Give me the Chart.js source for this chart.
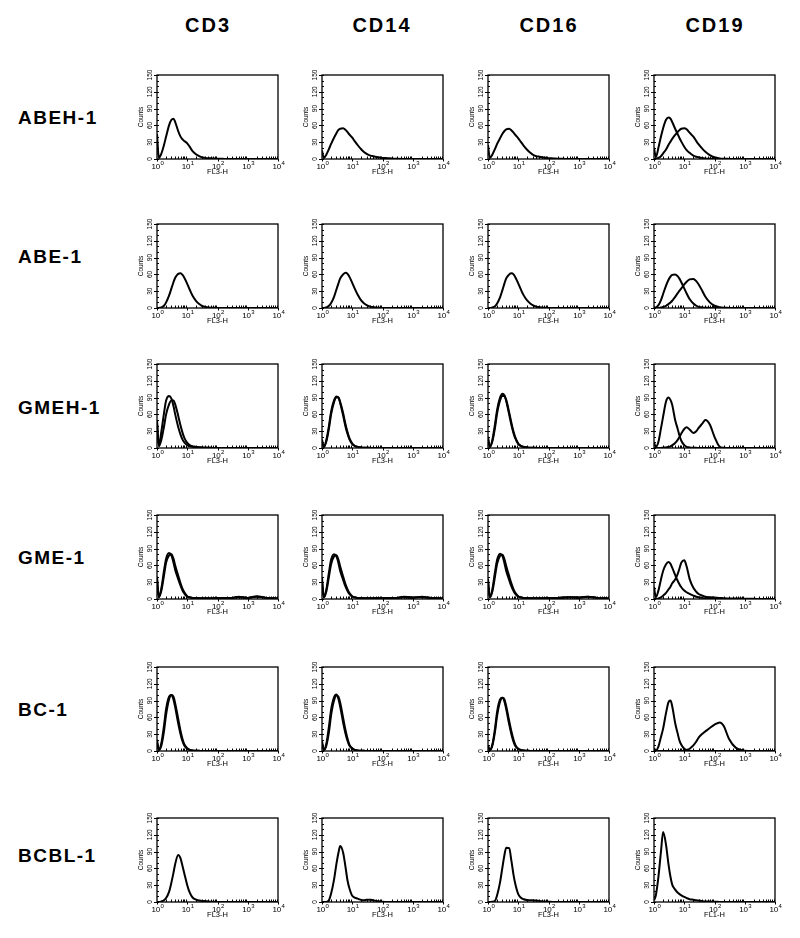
<!DOCTYPE html>
<html>
<head>
<meta charset="utf-8">
<script src="https://cdn.jsdelivr.net/npm/chart.js@4/dist/chart.umd.min.js"></script>
<style>
  html, body { margin: 0; padding: 0; background: #fff; }
  #fig { position: relative; width: 800px; height: 938px; background: #fff; overflow: hidden; }
  canvas { position: absolute; }
  .hdr { position: absolute; font: bold 20px Arial, "Liberation Sans", sans-serif; letter-spacing: 2px; color: #000; transform: translate(-50%, -50%); white-space: nowrap; }
  .row { position: absolute; font: bold 19px Arial, "Liberation Sans", sans-serif; letter-spacing: 1.5px; color: #000; transform: translateY(-50%); white-space: nowrap; }
</style>
</head>
<body>
<div id="fig"></div>
<script>
// ---------------- DATA ----------------
const rowLabels = ['ABEH-1', 'ABE-1', 'GMEH-1', 'GME-1', 'BC-1', 'BCBL-1'];
const colLabels = ['CD3', 'CD14', 'CD16', 'CD19'];

// fluorescence channel (x) positions shared by every histogram
const xChannels = [1, 1.15, 1.4, 1.7, 2, 2.5, 3, 3.5, 4, 5, 6, 7, 8, 10, 12, 15, 20, 25, 30, 40, 50, 70, 100, 150, 200, 300, 500, 1000, 2000, 4000, 10000];

const xTickValues = [1, 10, 100, 1000, 10000];
const xTickBase = '10';
const xTickExponents = ['0', '1', '2', '3', '4'];
const yTickValues = [0, 30, 60, 90, 120, 150];
const yTitle = 'Counts';

const xTitles = [
  ['FL3-H', 'FL3-H', 'FL3-H', 'FL1-H'],
  ['FL3-H', 'FL3-H', 'FL3-H', 'FL3-H'],
  ['FL3-H', 'FL3-H', 'FL3-H', 'FL1-H'],
  ['FL3-H', 'FL3-H', 'FL3-H', 'FL1-H'],
  ['FL3-H', 'FL3-H', 'FL3-H', 'FL3-H'],
  ['FL3-H', 'FL3-H', 'FL3-H', 'FL1-H']
];

// ABEH-1
const abeh1_cd3   = [45, 2, 10, 25, 40, 60, 70, 72, 66, 50, 40, 35, 32, 28, 22, 14, 8, 5, 3, 2, 1.5, 1, 0.5, 0.3, 0, 0, 0, 0, 0, 0, 0];
const abeh1_cd14  = [15, 2, 8, 18, 27, 38, 46, 52, 54, 55, 52, 48, 44, 38, 32, 25, 17, 12, 9, 6, 5, 3, 2, 1.5, 1, 0.5, 0.2, 0, 0, 0, 0];
const abeh1_cd16  = [25, 2, 8, 18, 27, 37, 45, 50, 53, 54, 51, 47, 43, 37, 31, 24, 16, 11, 8, 5, 4, 2.5, 1.5, 1, 0.5, 0.3, 0, 0, 0, 0, 0];
const abeh1_cd19a = [20, 3, 20, 40, 55, 70, 74, 72, 66, 54, 45, 37, 31, 22, 16, 11, 6, 4, 3, 2, 1, 0.5, 0.3, 0, 0, 0, 0, 0, 0, 0, 0];
const abeh1_cd19b = [0, 0, 2, 5, 10, 17, 25, 31, 36, 43, 48, 52, 54, 55, 53, 47, 40, 32, 26, 18, 13, 7, 3, 1, 0.5, 0.2, 0, 0, 0, 0, 0];
// ABE-1
const abe1_cd3   = [0, 0, 1, 4, 10, 22, 35, 46, 54, 61, 62, 59, 54, 43, 33, 22, 12, 7, 4, 2, 1, 0.5, 0, 0, 0, 0, 0, 0, 0, 0, 0];
const abe1_cd14  = [0, 0, 1, 4, 9, 20, 33, 44, 53, 60, 63, 61, 56, 45, 35, 24, 13, 8, 5, 2.5, 1.5, 0.5, 0.2, 0, 0, 0, 0, 0, 0, 0, 0];
const abe1_cd16  = [0, 0, 1, 3, 8, 19, 32, 44, 53, 60, 62, 60, 55, 44, 34, 23, 13, 8, 5, 2.5, 1.5, 0.5, 0.2, 0, 0, 0, 0, 0, 0, 0, 0];
const abe1_cd19a = [2, 1, 5, 14, 25, 40, 50, 56, 59, 60, 57, 52, 46, 35, 26, 16, 8, 4, 2, 1, 0.5, 0.2, 0, 0, 0, 0, 0, 0, 0, 0, 0];
const abe1_cd19b = [0, 0, 0, 1, 2, 4, 7, 10, 13, 20, 26, 31, 35, 42, 47, 51, 52, 48, 42, 30, 20, 10, 4, 1.5, 0.5, 0.2, 0, 0, 0, 0, 0];
// GMEH-1
const gmeh1_cd3a  = [50, 5, 30, 62, 85, 93, 88, 75, 60, 38, 24, 15, 10, 5, 3, 2, 1.5, 1, 0.8, 0.5, 0.3, 0.2, 0, 0, 0, 0, 0, 0, 0, 0, 0];
const gmeh1_cd3b  = [45, 3, 15, 38, 60, 78, 85, 85, 78, 58, 40, 27, 18, 9, 5, 3, 2, 1.5, 1, 0.5, 0.3, 0.2, 0, 0, 0, 0, 0, 0, 0, 0, 0];
const gmeh1_cd14a = [15, 2, 15, 40, 65, 85, 92, 90, 80, 58, 38, 25, 16, 7, 4, 2, 1, 0.5, 0.3, 0.2, 0, 0, 0, 0, 0, 0, 0, 0, 0, 0, 0];
const gmeh1_cd14b = [10, 2, 12, 35, 60, 82, 90, 90, 82, 62, 42, 28, 18, 8, 4, 2, 1, 0.5, 0.3, 0.2, 0, 0, 0, 0, 0, 0, 0, 0, 0, 0, 0];
const gmeh1_cd16a = [20, 2, 15, 42, 68, 90, 97, 94, 84, 60, 40, 26, 17, 7, 4, 2, 1, 0.5, 0.3, 0.2, 0, 0, 0, 0, 0, 0, 0, 0, 0, 0, 0];
const gmeh1_cd16b = [15, 2, 12, 36, 62, 85, 93, 93, 86, 64, 44, 29, 19, 8, 4, 2, 1, 0.5, 0.3, 0.2, 0, 0, 0, 0, 0, 0, 0, 0, 0, 0, 0];
const gmeh1_cd19a = [10, 2, 11, 35, 56, 83, 90, 86, 77, 50, 35, 22, 13, 5, 2, 1, 0.5, 0.3, 0, 0, 0, 0, 0, 0, 0, 0, 0, 0, 0, 0, 0];
const gmeh1_cd19b = [0, 0, 0, 0, 0.5, 1, 2, 3, 5, 9, 14, 20, 26, 34, 37, 33, 27, 30, 36, 44, 50, 42, 20, 2, 0.5, 0, 0, 0, 0, 0, 0];
// GME-1
const gme1_cd3a  = [40, 3, 20, 50, 72, 82, 78, 65, 52, 36, 24, 15, 10, 4, 3, 2, 2, 1.5, 1.5, 1.5, 1.5, 1.5, 2, 2, 2, 2, 4, 2, 5, 2, 1];
const gme1_cd3b  = [35, 3, 15, 42, 65, 78, 80, 72, 60, 42, 28, 18, 12, 5, 3, 2, 2, 1.5, 1.5, 1.5, 1.5, 1.5, 2, 2, 2, 2, 3, 2, 4, 2, 1];
const gme1_cd14a = [38, 3, 18, 48, 70, 80, 76, 64, 50, 34, 22, 14, 9, 4, 3, 2, 2, 1.5, 1.5, 1.5, 1.5, 2, 2, 2, 2, 2, 3, 2, 4, 2, 1];
const gme1_cd14b = [32, 3, 14, 40, 62, 76, 78, 70, 58, 40, 26, 17, 11, 5, 3, 2, 2, 1.5, 1.5, 1.5, 1.5, 2, 2, 2, 2, 2, 4, 3, 3, 2, 1];
const gme1_cd16a = [36, 3, 18, 48, 70, 81, 77, 64, 50, 34, 22, 14, 9, 4, 3, 2, 2, 1.5, 1.5, 1.5, 1.5, 1.5, 2, 2, 2, 2, 3, 3, 4, 2, 1];
const gme1_cd16b = [30, 3, 14, 40, 63, 77, 79, 71, 59, 41, 27, 17, 11, 5, 3, 2, 2, 1.5, 1.5, 1.5, 1.5, 1.5, 2, 2, 2, 3, 3, 2, 4, 2, 1];
const gme1_cd19a = [22, 3, 15, 35, 50, 62, 66, 63, 56, 43, 33, 26, 21, 15, 12, 9, 6, 4, 3, 2, 1.5, 1, 0.5, 0.3, 0.2, 0, 0, 0, 0, 0, 0];
const gme1_cd19b = [0, 0, 1, 3, 6, 11, 17, 22, 28, 35, 44, 55, 65, 69, 58, 36, 20, 13, 9, 6, 4, 3, 2.5, 2, 1.5, 1, 1, 0.5, 0.3, 0, 0];
// BC-1
const bc1_cd3a  = [20, 2, 15, 45, 75, 97, 100, 92, 78, 50, 30, 17, 10, 4, 2, 1, 0.5, 0.3, 0, 0, 0, 0, 0, 0, 0, 0, 0, 0, 0, 0, 0];
const bc1_cd3b  = [15, 2, 10, 35, 65, 92, 100, 97, 85, 58, 36, 21, 12, 5, 2, 1, 0.5, 0.3, 0, 0, 0, 0, 0, 0, 0, 0, 0, 0, 0, 0, 0];
const bc1_cd14a = [18, 2, 14, 44, 74, 96, 101, 93, 79, 51, 31, 18, 10, 4, 2, 1, 0.5, 0.3, 0, 0, 0, 0, 0, 0, 0, 0, 0, 0, 0, 0, 0];
const bc1_cd14b = [14, 2, 10, 34, 64, 90, 99, 97, 86, 59, 37, 22, 12, 5, 2, 1, 0.5, 0.3, 0, 0, 0, 0, 0, 0, 0, 0, 0, 0, 0, 0, 0];
const bc1_cd16a = [10, 2, 12, 40, 70, 92, 95, 88, 75, 48, 29, 16, 9, 4, 2, 1, 0.5, 0, 0, 0, 0, 0, 0, 0, 0, 0, 0, 0, 0, 0, 0];
const bc1_cd16b = [8, 2, 10, 34, 63, 88, 95, 92, 80, 54, 34, 20, 11, 4, 2, 1, 0.5, 0, 0, 0, 0, 0, 0, 0, 0, 0, 0, 0, 0, 0, 0];
const bc1_cd19a = [5, 1, 8, 25, 40, 68, 87, 90, 80, 50, 32, 18, 11, 4, 1.5, 0.5, 0, 0, 0, 0, 0, 0, 0, 0, 0, 0, 0, 0, 0, 0, 0];
const bc1_cd19b = [0, 0, 0, 0, 0, 0, 0, 0, 0, 0, 0, 0, 0, 1, 2, 4, 10, 17, 24, 31, 35, 41, 47, 51, 45, 22, 6, 0.5, 0, 0, 0];
// BCBL-1
const bcbl1_cd3  = [0, 0, 1, 3, 7, 18, 35, 52, 68, 84, 78, 64, 51, 30, 17, 8, 4, 2.5, 2, 1.5, 1, 0.5, 0.2, 0, 0, 0, 0, 0, 0, 0, 0];
const bcbl1_cd14 = [0, 0, 0, 3, 15, 40, 68, 88, 100, 88, 62, 38, 25, 11, 8, 6, 3.5, 3, 4, 4, 3, 1.5, 0.5, 0, 0, 0, 0, 0, 0, 0, 0];
const bcbl1_cd16 = [0, 0, 0.5, 2, 12, 35, 62, 84, 97, 96, 72, 48, 32, 14, 8, 5, 3.5, 3, 3, 2.5, 2, 1, 0.5, 0, 0, 0, 0, 0, 0, 0, 0];
const bcbl1_cd19 = [3, 12, 45, 90, 125, 102, 68, 45, 31, 22, 17, 14, 12, 9, 7, 5, 4, 3, 2.5, 1.5, 1, 0.7, 0.4, 0.2, 0, 0, 0, 0, 0, 0, 0];

const panelSeries = [
  [[abeh1_cd3], [abeh1_cd14], [abeh1_cd16], [abeh1_cd19a, abeh1_cd19b]],
  [[abe1_cd3], [abe1_cd14], [abe1_cd16], [abe1_cd19a, abe1_cd19b]],
  [[gmeh1_cd3a, gmeh1_cd3b], [gmeh1_cd14a, gmeh1_cd14b], [gmeh1_cd16a, gmeh1_cd16b], [gmeh1_cd19a, gmeh1_cd19b]],
  [[gme1_cd3a, gme1_cd3b], [gme1_cd14a, gme1_cd14b], [gme1_cd16a, gme1_cd16b], [gme1_cd19a, gme1_cd19b]],
  [[bc1_cd3a, bc1_cd3b], [bc1_cd14a, bc1_cd14b], [bc1_cd16a, bc1_cd16b], [bc1_cd19a, bc1_cd19b]],
  [[bcbl1_cd3], [bcbl1_cd14], [bcbl1_cd16], [bcbl1_cd19]]
];

// ---------------- LAYOUT ----------------
const PLOT_W = 121, PLOT_H = 84;
const PAD_L = 32, PAD_T = 10, PAD_R = 12, PAD_B = 24;
const colLeft = [157, 322, 488, 654];
const rowTop = [75, 224, 364, 515, 667, 818];
const headerX = [208, 382, 549, 715], headerY = 25;
const rowLabelX = 18;
const rowLabelY = [118, 257, 408, 558, 710, 856];

const fig = document.getElementById('fig');
colLabels.forEach((t, i) => {
  const d = document.createElement('div');
  d.className = 'hdr'; d.textContent = t;
  d.style.left = headerX[i] + 'px'; d.style.top = headerY + 'px';
  fig.appendChild(d);
});
rowLabels.forEach((t, i) => {
  const d = document.createElement('div');
  d.className = 'row'; d.textContent = t;
  d.style.left = rowLabelX + 'px'; d.style.top = rowLabelY[i] + 'px';
  fig.appendChild(d);
});

const FONT = 'Arial, "Liberation Sans", sans-serif';

const framePlugin = {
  id: 'frame',
  afterDraw(chart, args, opts) {
    const { ctx, chartArea: a } = chart;
    const x = chart.scales.x, y = chart.scales.y;
    ctx.save();
    ctx.strokeStyle = '#000';
    ctx.lineWidth = 1.3;
    ctx.strokeRect(a.left, a.top, a.right - a.left, a.bottom - a.top);
    ctx.lineWidth = 1;
    ctx.beginPath();
    // x minor ticks (inside) and major ticks (outside)
    for (let k = 0; k < 4; k++) {
      for (let m = 2; m <= 9; m++) {
        const px = Math.round(x.getPixelForValue(m * Math.pow(10, k))) + 0.5;
        ctx.moveTo(px, a.bottom); ctx.lineTo(px, a.bottom - 2.5);
      }
    }
    xTickValues.forEach(v => {
      const px = Math.round(x.getPixelForValue(v)) + 0.5;
      ctx.moveTo(px, a.bottom); ctx.lineTo(px, a.bottom + 2.5);
    });
    // y ticks
    for (let v = 0; v <= 150; v += 10) {
      const py = Math.round(y.getPixelForValue(v)) + 0.5;
      ctx.moveTo(a.left, py); ctx.lineTo(a.left + 2, py);
    }
    yTickValues.forEach(v => {
      const py = Math.round(y.getPixelForValue(v)) + 0.5;
      ctx.moveTo(a.left, py); ctx.lineTo(a.left - 3, py);
    });
    ctx.stroke();
    ctx.fillStyle = '#000';
    // x tick labels: base with raised exponent
    const baseFont = '8px ' + FONT, expFont = '6px ' + FONT;
    ctx.textBaseline = 'alphabetic';
    ctx.textAlign = 'left';
    xTickValues.forEach((v, i) => {
      const px = x.getPixelForValue(v);
      ctx.font = baseFont; const wb = ctx.measureText(xTickBase).width;
      ctx.font = expFont; const we = ctx.measureText(xTickExponents[i]).width;
      const x0 = px - (wb + we) / 2 + 0.5;
      ctx.font = baseFont; ctx.fillText(xTickBase, x0, a.bottom + 9.5);
      ctx.font = expFont; ctx.fillText(xTickExponents[i], x0 + wb + 0.3, a.bottom + 5.5);
    });
    // x title
    ctx.font = '7.5px ' + FONT;
    ctx.textAlign = 'center';
    ctx.textBaseline = 'middle';
    ctx.fillText(opts.xTitle, (a.left + a.right) / 2, a.bottom + 13);
    // rotated y labels
    ctx.font = '6.5px ' + FONT;
    yTickValues.forEach(v => {
      const py = y.getPixelForValue(v);
      ctx.save();
      ctx.translate(a.left - 7, py);
      ctx.rotate(-Math.PI / 2);
      ctx.fillText(String(v), 0, 0);
      ctx.restore();
    });
    ctx.save();
    ctx.translate(a.left - 16, (a.top + a.bottom) / 2);
    ctx.rotate(-Math.PI / 2);
    ctx.fillText(yTitle, 0, 0);
    ctx.restore();
    ctx.restore();
  }
};

for (let r = 0; r < rowLabels.length; r++) {
  for (let c = 0; c < colLabels.length; c++) {
    const cv = document.createElement('canvas');
    const w = PAD_L + PLOT_W + PAD_R, h = PAD_T + PLOT_H + PAD_B;
    cv.width = w; cv.height = h;
    cv.style.width = w + 'px'; cv.style.height = h + 'px';
    cv.style.left = (colLeft[c] - PAD_L) + 'px';
    cv.style.top = (rowTop[r] - PAD_T) + 'px';
    fig.appendChild(cv);
    const datasets = panelSeries[r][c].map(s => ({
      data: s.map((v, i) => ({ x: xChannels[i], y: v })),
      borderColor: '#000',
      borderWidth: 2,
      pointRadius: 0,
      fill: false,
      cubicInterpolationMode: 'monotone'
    }));
    new Chart(cv, {
      type: 'line',
      data: { datasets },
      plugins: [framePlugin],
      options: {
        responsive: false,
        animation: false,
        devicePixelRatio: 1,
        events: [],
        layout: { padding: { left: 0, top: PAD_T, right: PAD_R, bottom: 0 } },
        plugins: { legend: { display: false }, tooltip: { enabled: false }, frame: { xTitle: xTitles[r][c] } },
        scales: {
          x: {
            type: 'logarithmic', min: 1, max: 10000,
            grid: { display: false, drawTicks: false },
            border: { display: false },
            ticks: { display: false },
            afterFit: s => { s.height = PAD_B; }
          },
          y: {
            min: 0, max: 150,
            grid: { display: false, drawTicks: false },
            border: { display: false },
            ticks: { display: false },
            afterFit: s => { s.width = PAD_L; }
          }
        }
      }
    });
  }
}
</script>
</body>
</html>
